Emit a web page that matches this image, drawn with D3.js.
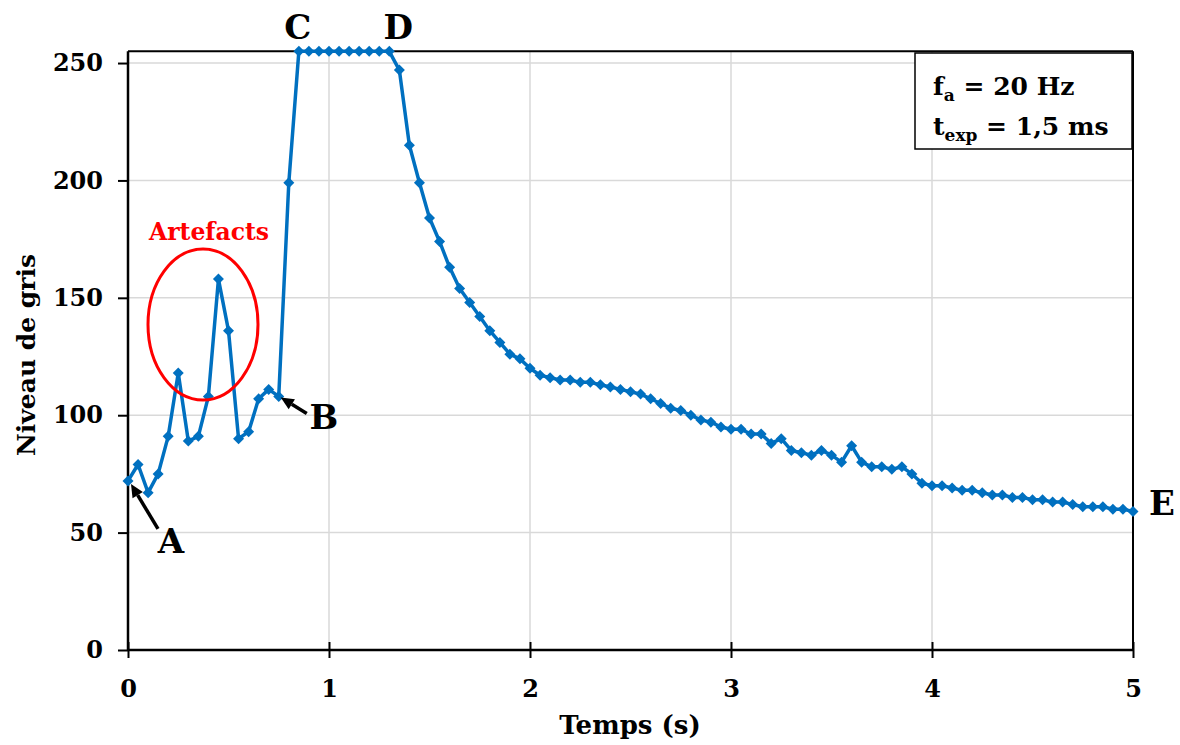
<!DOCTYPE html>
<html>
<head>
<meta charset="utf-8">
<script src="https://cdn.jsdelivr.net/npm/d3@7"></script>
<style>
  html, body { margin: 0; padding: 0; background: #ffffff; }
  svg { display: block; }
  text { font-family: "DejaVu Serif", "Liberation Serif", serif; font-weight: bold; }
</style>
</head>
<body>
<svg id="chart" width="1180" height="745"></svg>
<script>
// ---- data (sampling at 20 Hz) ----
const times = [
  0.00,0.05,0.10,0.15,0.20,0.25,0.30,0.35,0.40,0.45,0.50,0.55,0.60,0.65,0.70,0.75,0.80,0.85,0.90,0.95,
  1.00,1.05,1.10,1.15,1.20,1.25,1.30,1.35,1.40,1.45,1.50,1.55,1.60,1.65,1.70,1.75,1.80,1.85,1.90,1.95,
  2.00,2.05,2.10,2.15,2.20,2.25,2.30,2.35,2.40,2.45,2.50,2.55,2.60,2.65,2.70,2.75,2.80,2.85,2.90,2.95,
  3.00,3.05,3.10,3.15,3.20,3.25,3.30,3.35,3.40,3.45,3.50,3.55,3.60,3.65,3.70,3.75,3.80,3.85,3.90,3.95,
  4.00,4.05,4.10,4.15,4.20,4.25,4.30,4.35,4.40,4.45,4.50,4.55,4.60,4.65,4.70,4.75,4.80,4.85,4.90,4.95,
  5.00
];
const grayLevels = [
  72,79,67,75,91,118,89,91,108,158,136,90,93,107,111,108,199,255,255,255,
  255,255,255,255,255,255,255,247,215,199,184,174,163,154,148,142,136,131,126,124,
  120,117,116,115,115,114,114,113,112,111,110,109,107,105,103,102,100,98,97,95,
  94,94,92,92,88,90,85,84,83,85,83,80,87,80,78,78,77,78,75,71,
  70,70,69,68,68,67,66,66,65,65,64,64,63,63,62,61,61,61,60,60,
  59
];
const xTicks = [0, 1, 2, 3, 4, 5];
const yTicks = [0, 50, 100, 150, 200, 250];
const xDomain = [0, 5];
const yDomain = [0, 255];
const infoLines = [
  { main: "f", sub: "a", rest: " = 20 Hz" },
  { main: "t", sub: "exp", rest: " = 1,5 ms" }
];
const artefactText = "Artefacts";
const xTitle = "Temps (s)";
const yTitle = "Niveau de gris";

// ---- drawing ----
const svg = d3.select("#chart");
const pLeft = 128, pRight = 1133, pBottom = 650, pTop = 51.3;
const x = d3.scaleLinear().domain(xDomain).range([pLeft, pRight]);
const y = d3.scaleLinear().domain(yDomain).range([pBottom, pTop]);
const blue = "#0070C0";
const grid = "#d9d9d9";

// gridlines
svg.append("g").selectAll("line").data(yTicks.filter(d => d > 0)).join("line")
  .attr("x1", pLeft).attr("x2", pRight)
  .attr("y1", d => y(d)).attr("y2", d => y(d))
  .attr("stroke", grid).attr("stroke-width", 1.5);
svg.append("g").selectAll("line").data(xTicks.filter(d => d > 0 && d < 5)).join("line")
  .attr("x1", d => x(d)).attr("x2", d => x(d))
  .attr("y1", pTop).attr("y2", pBottom)
  .attr("stroke", grid).attr("stroke-width", 1.5);

// frame (top and right)
svg.append("line").attr("x1", pLeft).attr("x2", pRight).attr("y1", pTop).attr("y2", pTop)
  .attr("stroke", "#000").attr("stroke-width", 2);
svg.append("line").attr("x1", pRight).attr("x2", pRight).attr("y1", pTop).attr("y2", pBottom)
  .attr("stroke", "#000").attr("stroke-width", 2);

// y axis
const yAxis = svg.append("g").attr("transform", `translate(${pLeft},0)`)
  .call(d3.axisLeft(y).tickValues(yTicks).tickSize(10).tickPadding(15).tickFormat(d3.format("d")));
yAxis.select(".domain").attr("stroke", "#000").attr("stroke-width", 2.5).attr("d", `M0,${pBottom}V${pTop}`);
yAxis.selectAll(".tick line").attr("stroke", "#000").attr("stroke-width", 2);
yAxis.selectAll(".tick text").attr("font-size", 24).attr("font-family", "DejaVu Serif").attr("font-weight", "bold").attr("fill", "#000");

// x axis (cross ticks)
const xAxis = svg.append("g").attr("transform", `translate(0,${pBottom})`)
  .call(d3.axisBottom(x).tickValues(xTicks).tickSize(8).tickPadding(22).tickFormat(d3.format("d")));
xAxis.select(".domain").attr("stroke", "#000").attr("stroke-width", 2.5).attr("d", `M${pLeft},0H${pRight}`);
xAxis.selectAll(".tick line").attr("stroke", "#000").attr("stroke-width", 2).attr("y1", -8).attr("y2", 8);
xAxis.selectAll(".tick text").attr("font-size", 24).attr("font-family", "DejaVu Serif").attr("font-weight", "bold").attr("fill", "#000");

// titles
svg.append("text").attr("x", 630).attr("y", 734).attr("text-anchor", "middle")
  .attr("font-size", 26).text(xTitle);
svg.append("text").attr("transform", "translate(35,355) rotate(-90)").attr("text-anchor", "middle")
  .attr("font-size", 25).text(yTitle);

// series
const data = times.map((t, i) => ({ t, v: grayLevels[i] }));
svg.append("path").datum(data)
  .attr("fill", "none").attr("stroke", blue).attr("stroke-width", 3.5).attr("stroke-linejoin", "round")
  .attr("d", d3.line().x(d => x(d.t)).y(d => y(d.v)));
const diamond = "M0,-5.5L5.5,0L0,5.5L-5.5,0Z";
svg.append("g").selectAll("path").data(data).join("path")
  .attr("transform", d => `translate(${x(d.t)},${y(d.v)})`)
  .attr("d", diamond).attr("fill", blue);

// artefacts ellipse and label
svg.append("ellipse").attr("cx", 203).attr("cy", 324.5).attr("rx", 55).attr("ry", 75.5)
  .attr("fill", "none").attr("stroke", "#ff0000").attr("stroke-width", 3);
svg.append("text").attr("x", 209).attr("y", 240).attr("text-anchor", "middle")
  .attr("font-size", 23.5).attr("fill", "#ff0000").text(artefactText);

// point labels
const byT = t => data.find(d => Math.abs(d.t - t) < 1e-9);
function arrow(x1, y1, x2, y2) {
  const ang = Math.atan2(y2 - y1, x2 - x1);
  const hl = 13, hw = 6;
  const bx = x2 - hl * Math.cos(ang), by = y2 - hl * Math.sin(ang);
  svg.append("line").attr("x1", x1).attr("y1", y1).attr("x2", bx).attr("y2", by)
    .attr("stroke", "#000").attr("stroke-width", 3.5);
  const px = -Math.sin(ang) * hw, py = Math.cos(ang) * hw;
  svg.append("path").attr("d", `M${x2},${y2}L${bx + px},${by + py}L${bx - px},${by - py}Z`).attr("fill", "#000");
}
const pA = byT(0), pB = byT(0.75), pC = byT(0.85), pD = byT(1.30), pE = byT(5.0);
arrow(x(pA.t) + 30, y(pA.v) + 48, x(pA.t) + 3, y(pA.v) + 3);
svg.append("text").attr("x", x(pA.t) + 43).attr("y", y(pA.v) + 72).attr("text-anchor", "middle")
  .attr("font-size", 34).text("A");
arrow(x(pB.t) + 28, y(pB.v) + 17, x(pB.t) + 2, y(pB.v) + 1);
svg.append("text").attr("x", x(pB.t) + 45).attr("y", y(pB.v) + 33).attr("text-anchor", "middle")
  .attr("font-size", 34).text("B");
svg.append("text").attr("x", x(pC.t) - 1).attr("y", y(pC.v) - 12).attr("text-anchor", "middle")
  .attr("font-size", 34).text("C");
svg.append("text").attr("x", x(pD.t) + 9).attr("y", y(pD.v) - 12).attr("text-anchor", "middle")
  .attr("font-size", 34).text("D");
svg.append("text").attr("x", x(pE.t) + 29).attr("y", y(pE.v) + 4).attr("text-anchor", "middle")
  .attr("font-size", 34).text("E");

// info box
svg.append("rect").attr("x", 915).attr("y", 53).attr("width", 217).attr("height", 96)
  .attr("fill", "#fff").attr("stroke", "#000").attr("stroke-width", 1.5);
infoLines.forEach((ln, i) => {
  const t = svg.append("text").attr("x", 933).attr("y", 95 + i * 40).attr("font-size", 25);
  t.append("tspan").text(ln.main);
  t.append("tspan").attr("font-size", 17).attr("dy", 6).text(ln.sub);
  t.append("tspan").attr("dy", -6).text(ln.rest);
});
</script>
</body>
</html>
